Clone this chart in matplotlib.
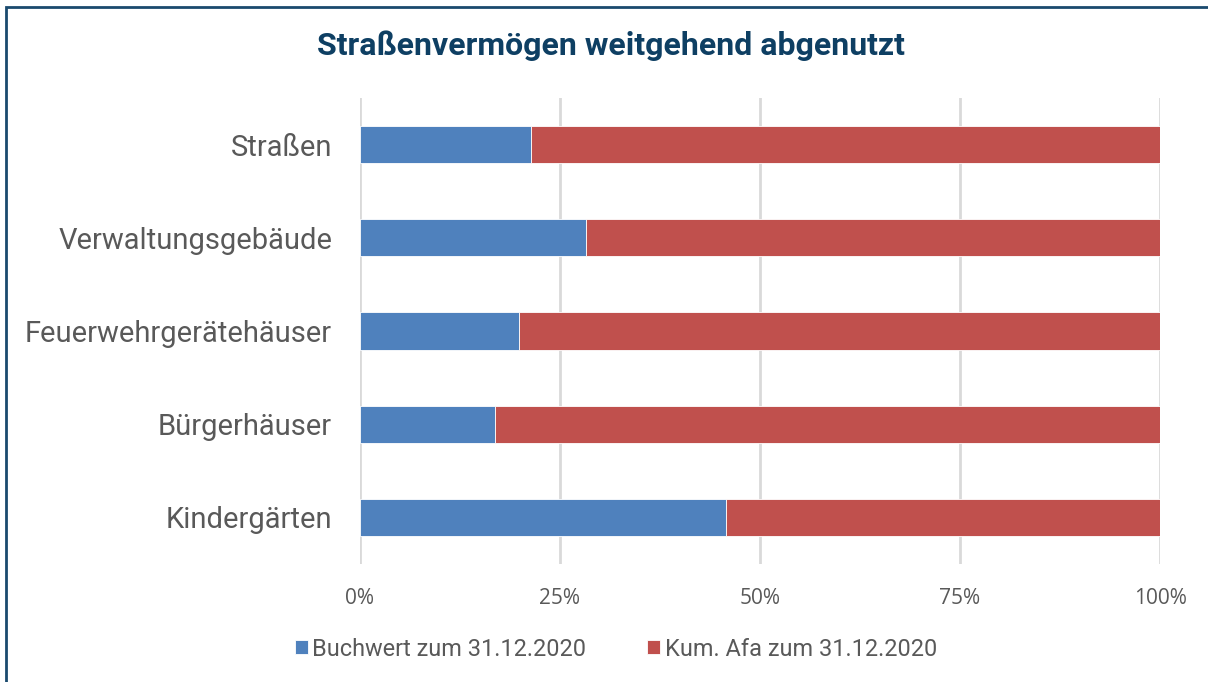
import matplotlib
matplotlib.use("Agg")
import matplotlib.pyplot as plt
import numpy as np
from matplotlib.patches import Rectangle

# Daten (Anteile in %)
kategorien = ["Straßen", "Verwaltungsgebäude", "Feuerwehrgerätehäuser", "Bürgerhäuser", "Kindergärten"]
buchwert = [21.4, 28.2, 19.9, 16.9, 45.7]
kum_afa = [100 - b for b in buchwert]
x_ticks = [0, 25, 50, 75, 100]
x_labels = ["0%", "25%", "50%", "75%", "100%"]

blau = "#4F81BD"
rot = "#C0504D"
grau = "#595959"
dunkelblau = "#0E3F63"

fig = plt.figure(figsize=(12.08, 6.82), dpi=100)
W, H = 1208, 682
ax = fig.add_axes([360 / W, 1 - 564 / H, 800 / W, (564 - 98) / H])

y = np.arange(len(kategorien))
ax.barh(y, buchwert, height=0.4, color=blau, edgecolor="white", linewidth=0.6,
        label="Buchwert zum 31.12.2020", zorder=3)
ax.barh(y, kum_afa, left=buchwert, height=0.4, color=rot, edgecolor="white", linewidth=0.6,
        label="Kum. Afa zum 31.12.2020", zorder=3)

ax.set_xlim(0, 100)
ax.set_ylim(len(kategorien) - 0.5, -0.5)
ax.set_yticks(y)
ax.set_yticklabels(kategorien, fontsize=21, color=grau, family="Roboto")
ax.set_xticks(x_ticks)
ax.set_xticklabels(x_labels, fontsize=15, color=grau, family="Open Sans")
ax.tick_params(axis="both", length=0)
ax.tick_params(axis="y", pad=20)
ax.tick_params(axis="x", pad=17)
ax.grid(axis="x", color="#D9D9D9", linewidth=2, zorder=0)
for s in ax.spines.values():
    s.set_visible(False)

fig.text(611 / W, 1 - 46 / H, "Straßenvermögen weitgehend abgenutzt", ha="center", va="center",
         fontsize=23, fontweight="bold", color=dunkelblau, family="Roboto")

leg = fig.legend(loc="center", bbox_to_anchor=(616 / W, 1 - 649 / H), ncol=2, frameon=False,
                 prop={"family": "Roboto", "size": 16.9}, handlelength=0.55, handleheight=0.55,
                 handletextpad=0.2, columnspacing=2.6)
for t in leg.get_texts():
    t.set_color(grau)

# Rahmen
fig.patches.append(Rectangle((6 / W, -0.1), 1.2, 1 - 7 / H + 0.1, transform=fig.transFigure,
                             fill=False, edgecolor="#1A4A6E", linewidth=2))

fig.savefig("out.png", dpi=100)
